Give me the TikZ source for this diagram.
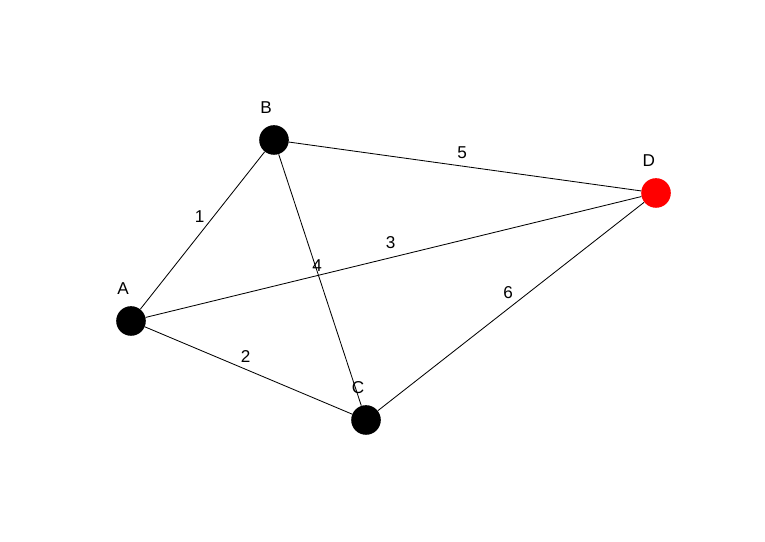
\documentclass[tikz,border=0pt]{standalone}
\usepackage{fontspec}
\setmainfont{Liberation Sans}
\usepackage{tikz}
\usetikzlibrary{positioning}

\begin{document}
\begin{tikzpicture}[font=\fontsize{12.2}{14}\selectfont,
  vertex/.style={circle,fill=black,minimum size=0.74cm,inner sep=0pt},
  edgelabel/.style={midway,xshift=-0.07cm,yshift=0.35cm},
  link/.style={line width=0.6pt}]
\useasboundingbox (0,0) rectangle (19.125,13.55);
\node[vertex,label={[shift={(-0.2,0.8)}]center:A}] (a) at (3.275,5.525) {};
\node[vertex,label={[shift={(-0.2,0.82)}]center:B}] (b) at (6.85,10.05) {};
\node[vertex,label={[shift={(-0.2,0.82)}]center:C}] (c) at (9.15,3.05) {};
\node[vertex,fill=red,label={[shift={(-0.18,0.82)}]center:D}] (d) at (16.4,8.725) {};
\draw[link] (a) -- (b) node[edgelabel]{1};
\draw[link] (a) -- (c) node[edgelabel]{2};
\draw[link] (a) -- (d) node[edgelabel]{3};
\draw[link] (b) -- (c) node[edgelabel]{4};
\draw[link] (b) -- (d) node[edgelabel]{5};
\draw[link] (c) -- (d) node[edgelabel]{6};
\end{tikzpicture}
\end{document}
